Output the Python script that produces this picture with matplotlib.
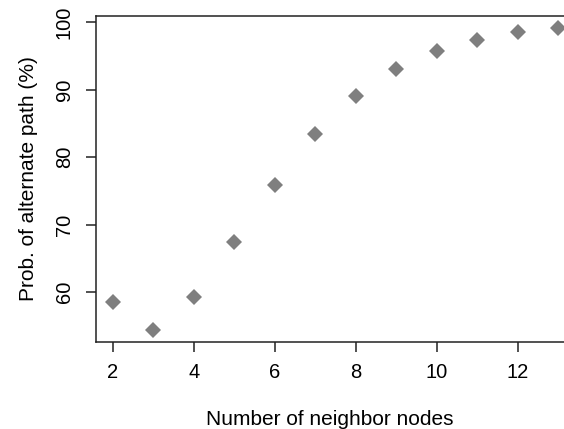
import matplotlib
matplotlib.use('Agg')
import matplotlib.pyplot as plt

neighborNodes = [2, 3, 4, 5, 6, 7, 8, 9, 10, 11, 12, 13]
altPathProb = [58.5, 54.4, 59.3, 67.4, 75.9, 83.4, 89.0, 93.0, 95.7, 97.3, 98.5, 99.1]
xTicks = [2, 4, 6, 8, 10, 12]
yTicks = [60, 70, 80, 90, 100]

plt.rcParams['font.family'] = ['Liberation Sans', 'DejaVu Sans']

fig = plt.figure(figsize=(5.64, 4.29), dpi=100)
ax = fig.add_axes([96/564., 87/429., 1 - 96/564., (342-16)/429.])
ax.plot(neighborNodes, altPathProb, linestyle='none', marker='D', markersize=8,
        color='#7f7f7f', markeredgewidth=0)
ax.set_xlim(1.58, 13.14)
ax.set_ylim(52.6, 100.9)
ax.set_xticks(xTicks)
ax.set_yticks(yTicks)
ax.spines['right'].set_visible(False)
for s in ['left', 'top', 'bottom']:
    ax.spines[s].set_linewidth(1.1)
    ax.spines[s].set_color('#222222')
ax.tick_params(axis='both', direction='out', length=7, width=1.1, color='#222222', labelsize=14.5)
ax.tick_params(axis='x', pad=8)
ax.tick_params(axis='y', pad=9)
for lbl in ax.get_yticklabels():
    lbl.set_rotation(90)
    lbl.set_va('center')
ax.set_xlabel('Number of neighbor nodes', fontsize=15, labelpad=20)
ax.set_ylabel('Prob. of alternate path (%)', fontsize=15, labelpad=12)
fig.savefig('out.png', dpi=100)
